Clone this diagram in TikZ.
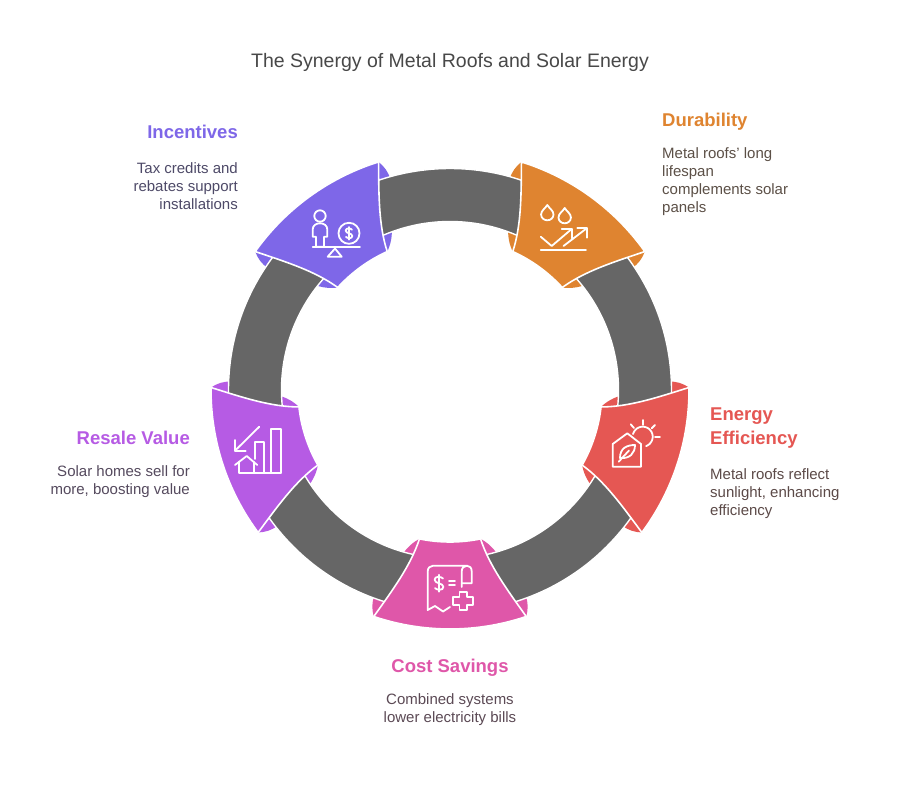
\documentclass[tikz,border=0pt]{standalone}
\usepackage{fontspec}
\setmainfont{Liberation Sans}
\definecolor{corange}{HTML}{DF8430}
\definecolor{cred}{HTML}{E55753}
\definecolor{cpink}{HTML}{DF57A9}
\definecolor{cpurple}{HTML}{B65BE4}
\definecolor{cviolet}{HTML}{7E67E8}
\definecolor{cgray}{HTML}{666666}
\definecolor{ctitle}{HTML}{484848}
\definecolor{borange}{HTML}{5C5047}
\definecolor{bred}{HTML}{5C4A48}
\definecolor{bpink}{HTML}{5C4A55}
\definecolor{bpurple}{HTML}{554A5E}
\definecolor{bviolet}{HTML}{4E4A68}
\tikzset{
  iconline/.style={draw=white,line width=1.8pt,line cap=round,line join=round},
  ringstyle/.style={fill=cgray,draw=white,line width=1.4pt,even odd rule},
  petal/.style={fill=#1,draw=white,line width=1.6pt,line join=miter},
  flap/.style={fill=#1,draw=none},
  titletext/.style={font=\fontsize{19.5}{22}\selectfont,text=ctitle,inner sep=0pt},
  headtext/.style={font=\fontsize{18.5}{24}\selectfont\bfseries,text=#1,inner sep=0pt},
  bodytext/.style={font=\fontsize{15}{18}\selectfont,text=#1,inner sep=0pt},
}
\newcommand{\flaps}[2]{%
  \begin{scope}[shift={(450,390)}]
  \foreach \s in {1,-1}{
    \fill[flap=#2] (#1+\s*18.6:239) .. controls (#1+\s*19.6:233) and (#1+\s*20.2:227) .. (#1+\s*20.2:219) -- (#1+\s*15:219) -- cycle;
    \fill[flap=#2] (#1+\s*16.2:172) .. controls (#1+\s*15.4:164) and (#1+\s*13.8:157) .. (#1+\s*11.6:152) -- (#1+\s*11:172) -- cycle;
  }
  \end{scope}}
\newcommand{\petalshape}[2]{%
  \begin{scope}[shift={(450,390)}]
  \draw[petal=#2] (#1-18.6:239)
    -- plot[domain=#1-18.6:#1+18.6,samples=25,smooth] (\x:239)
    .. controls (#1+16:208) and (#1+12.6:180) .. (#1+11.6:152)
    -- plot[domain=#1+11.6:#1-11.6,samples=17,smooth] (\x:152)
    .. controls (#1-12.6:180) and (#1-16:208) .. (#1-18.6:239) -- cycle;
  \end{scope}}
\newcommand{\dropicon}[2]{%
  \draw[iconline,shift={(#1,#2)}] (0,-8.5) .. controls (-2,-5) and (-6.2,-3) .. (-6.2,1) .. controls (-6.2,4.5) and (-3.2,6.8) .. (0,6.8) .. controls (3.2,6.8) and (6.2,4.5) .. (6.2,1) .. controls (6.2,-3) and (2,-5) .. (0,-8.5) -- cycle;}
\newcommand{\dollarsign}[3]{%
  \draw[iconline,shift={(#1,#2)},scale=#3] (.5,-.6) .. controls (.3,-.85) and (-.55,-.95) .. (-.55,-.45) .. controls (-.55,.05) and (.55,-.05) .. (.55,.45) .. controls (.55,.95) and (-.3,.85) .. (-.5,.6);
  \draw[iconline,shift={(#1,#2)},scale=#3] (0,-1.05) -- (0,1.05);}
\begin{document}
\begin{tikzpicture}[x=1pt,y=-1pt]
\useasboundingbox (0,0) rectangle (900,786);
\fill[white] (0,0) rectangle (900,786);
\coordinate (ctr) at (450,390);
% flaps under the ring
\flaps{-54}{corange}
\flaps{18}{cred}
\flaps{90}{cpink}
\flaps{162}{cpurple}
\flaps{234}{cviolet}
% ring
\draw[ringstyle] (ctr) circle[radius=221.5pt] (ctr) circle[radius=168.5pt];
% petals
\petalshape{-54}{corange}
\petalshape{18}{cred}
\petalshape{90}{cpink}
\petalshape{162}{cpurple}
\petalshape{234}{cviolet}
% orange icon
\dropicon{547.3}{213.5}
\dropicon{564.7}{216.5}
\draw[iconline] (540.7,250.3) -- (586,250.3);
\draw[iconline] (540.7,236.7) -- (551.7,246) -- (571.7,229);
\draw[iconline] (561.7,229) -- (571.7,229) -- (571.7,238.3);
\draw[iconline] (563.5,246) -- (586.7,228.3);
\draw[iconline] (577.3,228.3) -- (586.7,228.3) -- (586.7,237.7);
% violet icon
\draw[iconline] (320,216) circle[radius=5.7pt];
\draw[iconline] (312.7,236.7) -- (312.7,229.5) .. controls (312.7,225.5) and (316,223.3) .. (320,223.3) .. controls (324,223.3) and (327.3,225.5) .. (327.3,229.5) -- (327.3,236.7) -- (324,236.7) -- (324,246.7) -- (316,246.7) -- (316,236.7) -- cycle;
\draw[iconline] (349,233.3) circle[radius=10.5pt];
\dollarsign{349}{233.3}{6}
\draw[iconline] (312.7,247) -- (360,247);
\draw[iconline] (335,248.5) -- (327.7,256.7) -- (341.7,256.7) -- cycle;
% red icon
\draw[iconline] (612.7,444) -- (627.3,433.3) -- (641,444) -- (641,466.7) -- (612.7,466.7) -- cycle;
\draw[iconline] (635,445) .. controls (627,445) and (620,448) .. (620,458) .. controls (630,459) and (635,453) .. (635,445) -- cycle;
\draw[iconline] (618.7,461.7) -- (629,450.5);
\draw[iconline,shift={(642.7,436.7)}] plot[domain=-165:70,samples=30,smooth] (\x:10);
\draw[iconline] (642.7,420) -- (642.7,425);
\draw[iconline] (630.7,424.3) -- (634,428);
\draw[iconline] (655,425) -- (651.7,428.3);
\draw[iconline] (655,436.7) -- (660,436.7);
% purple icon
\draw[iconline] (259.3,426.7) -- (235,450.7);
\draw[iconline] (235,440) -- (235,450.7) -- (245.7,450.7);
\draw[iconline] (271,472.7) -- (271,429) -- (281,429) -- (281,472.7);
\draw[iconline] (255,459) -- (255,441.7) -- (264.3,441.7) -- (264.3,472.7);
\draw[iconline] (235,465) -- (246.7,456) -- (257.3,465);
\draw[iconline] (239,461.7) -- (239,472.7) -- (281,472.7);
\draw[iconline] (254,462) -- (254,472.7);
% pink icon
\draw[iconline] (461.7,587) -- (461.7,571.5) .. controls (461.7,568) and (464,565.7) .. (467,565.7) -- (433,565.7) .. controls (430,565.7) and (427.7,568) .. (427.7,571.5) -- (427.7,610) -- (435,606) -- (443,611.5) -- (450,607);
\draw[iconline] (467,565.7) .. controls (470,565.7) and (471.7,568) .. (471.7,571.5) -- (471.7,583.3) -- (461.7,583.3);
\dollarsign{439}{583.3}{8}
\draw[iconline] (449,580.7) -- (455,580.7);
\draw[iconline] (449,585) -- (455,585);
\draw[iconline] (459.5,591.7) -- (467.1,591.7) -- (467.1,597.2) -- (473.3,597.2) -- (473.3,604.8) -- (467.1,604.8) -- (467.1,610.3) -- (459.5,610.3) -- (459.5,604.8) -- (453.3,604.8) -- (453.3,597.2) -- (459.5,597.2) -- cycle;
% texts
\node[titletext] (title) at (450,62) {The Synergy of Metal Roofs and Solar Energy};
\node[headtext=corange,anchor=west] (h1) at (662,122) {Durability};
\node[bodytext=borange,anchor=west,align=left] (b1) at (662,182) {Metal roofs' long\\lifespan\\complements solar\\panels};
\node[headtext=cred,anchor=west,align=left] (h2) at (710,428) {Energy\\Efficiency};
\node[bodytext=bred,anchor=west,align=left] (b2) at (710,494) {Metal roofs reflect\\sunlight, enhancing\\efficiency};
\node[headtext=cpink] (h3) at (450,668) {Cost Savings};
\node[bodytext=bpink,align=center] (b3) at (450,710) {Combined systems\\lower electricity bills};
\node[headtext=cpurple,anchor=east] (h4) at (190,438) {Resale Value};
\node[bodytext=bpurple,anchor=east,align=right] (b4) at (190,482) {Solar homes sell for\\more, boosting value};
\node[headtext=cviolet,anchor=east] (h5) at (238,132) {Incentives};
\node[bodytext=bviolet,anchor=east,align=right] (b5) at (238,186) {Tax credits and\\rebates support\\installations};
\end{tikzpicture}
\end{document}
